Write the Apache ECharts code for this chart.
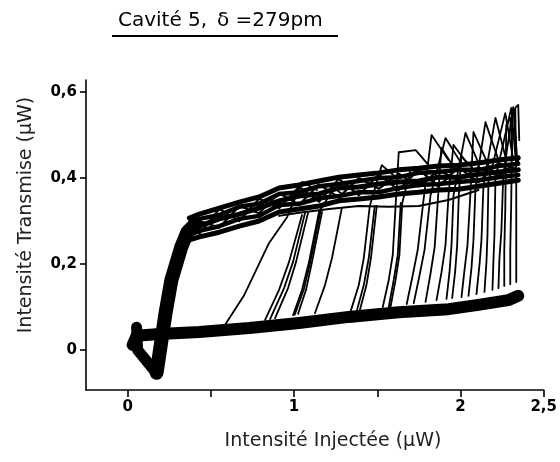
<!DOCTYPE html>
<html>
<head>
<meta charset="utf-8">
<script src="https://cdn.jsdelivr.net/npm/echarts@6/dist/echarts.min.js"></script>
<style>
  html, body { margin: 0; padding: 0; background: #fff; }
  #chart { width: 560px; height: 462px; }
</style>
</head>
<body>
<div id="chart"></div>
<script>
// Axis ticks and labels
const xTicks = [0, 0.5, 1, 1.5, 2, 2.5];
const xLabelValues = [0, 1, 2, 2.5];
const yTicks = [0, 0.2, 0.4, 0.6];

// Lower (off-state) branch, increasing power
const lowerBranch = [
  [0.030, 0.012], [0.054, 0.033], [0.192, 0.037], [0.431, 0.042], [0.731, 0.051],
  [1.030, 0.063], [1.329, 0.077], [1.629, 0.088], [1.928, 0.095], [2.108, 0.105],
  [2.287, 0.116], [2.347, 0.126]
];

// Small loop near the origin (blob and dip before switching up)
const originLoop = [[0.054, 0.053], [0.060, 0.000], [0.168, -0.051]];

// Steep switching band at low power
const switchBand = [
  [0.174, -0.053], [0.192, -0.007], [0.228, 0.086], [0.263, 0.163],
  [0.323, 0.240], [0.359, 0.274], [0.407, 0.293]
];

// Upper (on-state) branch, several passes
const upperX = [0.371, 0.431, 0.551, 0.671, 0.790, 0.910, 1.030, 1.150, 1.269,
                1.389, 1.509, 1.629, 1.749, 1.868, 1.988, 2.108, 2.228, 2.347];
const upperA = [0.307, 0.316, 0.330, 0.344, 0.356, 0.377, 0.384, 0.393, 0.402,
                0.407, 0.412, 0.419, 0.423, 0.428, 0.430, 0.435, 0.442, 0.447];
const upperB = [0.293, 0.305, 0.314, 0.333, 0.340, 0.363, 0.367, 0.381, 0.386,
                0.393, 0.400, 0.402, 0.412, 0.414, 0.419, 0.419, 0.428, 0.433];
const upperC = [0.279, 0.288, 0.305, 0.316, 0.330, 0.347, 0.358, 0.363, 0.377,
                0.379, 0.386, 0.391, 0.393, 0.402, 0.402, 0.409, 0.414, 0.419];
const upperD = [0.267, 0.277, 0.288, 0.305, 0.312, 0.337, 0.340, 0.353, 0.358,
                0.367, 0.367, 0.377, 0.384, 0.386, 0.391, 0.395, 0.402, 0.407];
const upperE = [0.256, 0.263, 0.274, 0.288, 0.300, 0.321, 0.328, 0.335, 0.347,
                0.351, 0.356, 0.363, 0.367, 0.372, 0.374, 0.381, 0.388, 0.395];
const upperF = [0.300, 0.270, 0.328, 0.300, 0.352, 0.330, 0.380, 0.345, 0.398,
                0.360, 0.408, 0.372, 0.420, 0.380, 0.425, 0.390, 0.435, 0.420];
const upperG = [0.262, 0.300, 0.285, 0.335, 0.318, 0.365, 0.338, 0.385, 0.355,
                0.400, 0.375, 0.410, 0.380, 0.418, 0.395, 0.425, 0.405, 0.440];
const returnX = [0.910, 1.030, 1.210, 1.389, 1.569, 1.749, 1.928, 2.108];
const returnY = [0.312, 0.319, 0.328, 0.335, 0.333, 0.335, 0.349, 0.372];

// Individual up-switching traces (leave the lower branch, overshoot, settle)
const upSwitches = [
  [[0.581, 0.056], [0.701, 0.128], [0.772, 0.186], [0.850, 0.249], [0.958, 0.309], [1.048, 0.391], [1.138, 0.372]],
  [[0.826, 0.070], [0.910, 0.140], [0.970, 0.205], [1.048, 0.314]],
  [[0.856, 0.072], [0.940, 0.144], [0.994, 0.205], [1.066, 0.319]],
  [[0.886, 0.074], [0.964, 0.144], [1.012, 0.205], [1.084, 0.319]],
  [[0.994, 0.081], [1.048, 0.140], [1.090, 0.205], [1.150, 0.321], [1.240, 0.377], [1.299, 0.360]],
  [[1.004, 0.082], [1.058, 0.140], [1.098, 0.205], [1.158, 0.321]],
  [[1.024, 0.084], [1.072, 0.140], [1.108, 0.205], [1.168, 0.321]],
  [[1.126, 0.086], [1.186, 0.151], [1.228, 0.214], [1.287, 0.330]],
  [[1.341, 0.091], [1.389, 0.151], [1.419, 0.214], [1.455, 0.335], [1.527, 0.430], [1.617, 0.400]],
  [[1.377, 0.091], [1.419, 0.151], [1.449, 0.214], [1.485, 0.335]],
  [[1.395, 0.092], [1.435, 0.151], [1.462, 0.214], [1.497, 0.335]],
  [[1.533, 0.100], [1.569, 0.163], [1.593, 0.221], [1.611, 0.342], [1.629, 0.460], [1.731, 0.465], [1.808, 0.430]],
  [[1.569, 0.100], [1.599, 0.163], [1.623, 0.221], [1.641, 0.342]],
  [[1.580, 0.101], [1.610, 0.163], [1.633, 0.221], [1.650, 0.342], [1.700, 0.420], [1.760, 0.410]],
  [[1.677, 0.107], [1.713, 0.174], [1.743, 0.233], [1.778, 0.349], [1.826, 0.500], [1.928, 0.442]],
  [[1.719, 0.109], [1.754, 0.174], [1.784, 0.233], [1.820, 0.360], [1.910, 0.493], [2.000, 0.437]],
  [[1.790, 0.112], [1.820, 0.178], [1.845, 0.240], [1.865, 0.355], [1.885, 0.470], [1.960, 0.425]],
  [[1.856, 0.116], [1.886, 0.181], [1.910, 0.244], [1.928, 0.360], [1.958, 0.477], [2.048, 0.430]],
  [[1.916, 0.119], [1.934, 0.181], [1.946, 0.244], [1.958, 0.360], [2.030, 0.505], [2.108, 0.435]],
  [[1.950, 0.121], [1.968, 0.183], [1.980, 0.244], [1.990, 0.362], [2.005, 0.450], [2.070, 0.425]],
  [[2.006, 0.123], [2.024, 0.186], [2.042, 0.244], [2.060, 0.367], [2.078, 0.507], [2.168, 0.430]],
  [[2.048, 0.126], [2.066, 0.191], [2.078, 0.256], [2.090, 0.377], [2.150, 0.530], [2.228, 0.442]],
  [[2.096, 0.130], [2.114, 0.198], [2.126, 0.256], [2.138, 0.384], [2.210, 0.540], [2.275, 0.442]],
  [[2.144, 0.135], [2.156, 0.205], [2.162, 0.267], [2.168, 0.391], [2.269, 0.551], [2.317, 0.442]],
  [[2.192, 0.140], [2.198, 0.209], [2.204, 0.267], [2.210, 0.400], [2.305, 0.563], [2.335, 0.430]],
  [[2.228, 0.144], [2.234, 0.214], [2.246, 0.279], [2.257, 0.407], [2.317, 0.565], [2.341, 0.442]],
  [[2.263, 0.149], [2.263, 0.233], [2.269, 0.326], [2.275, 0.523], [2.299, 0.540], [2.311, 0.465]],
  [[2.299, 0.153], [2.299, 0.233], [2.305, 0.349], [2.311, 0.547], [2.323, 0.558], [2.335, 0.465]],
  [[2.335, 0.158], [2.335, 0.256], [2.335, 0.395], [2.329, 0.563], [2.347, 0.570], [2.353, 0.488]]
];

const titleMain = 'Cavité 5,';
const titleDelta = 'δ =279pm';
const xName = 'Intensité Injectée (µW)';
const yName = 'Intensité Transmise (µW)';

const FONT = '"DejaVu Sans", "Liberation Sans", sans-serif';
const zip = (xs, ys) => xs.map((x, i) => [x, ys[i]]);
const fmt = v => String(v).replace('.', ',');

function trace(data, width, z) {
  return {
    type: 'line', data, symbol: 'none', showSymbol: false, silent: true,
    animation: false, z: z || 2,
    lineStyle: { color: '#000', width, cap: 'round', join: 'round' }
  };
}

const series = [
  trace(lowerBranch, 12, 3),
  trace(originLoop, 11, 3),
  trace(switchBand, 14, 3),
  trace(zip(upperX, upperA), 5),
  trace(zip(upperX, upperB), 4.5),
  trace(zip(upperX, upperC), 5),
  trace(zip(upperX, upperD), 4.5),
  trace(zip(upperX, upperE), 5),
  trace(zip(upperX, upperF), 2.2),
  trace(zip(upperX, upperG), 2.2),
  trace(zip(returnX, returnY), 2)
];
upSwitches.forEach(t => series.push(trace(t, 1.8)));

const chart = echarts.init(document.getElementById('chart'), null, { renderer: 'canvas' });
chart.setOption({
  animation: false,
  backgroundColor: '#fff',
  grid: { left: 86, right: 15, top: 80, bottom: 72, containLabel: false },
  xAxis: {
    type: 'value', min: -0.25, max: 2.5,
    axisLine: { onZero: false, lineStyle: { color: '#000', width: 1.6 } },
    axisTick: { show: true, length: 7, lineStyle: { color: '#000', width: 1.6 }, customValues: xTicks },
    axisLabel: {
      customValues: xLabelValues, formatter: fmt, margin: 10,
      color: '#000', fontFamily: FONT, fontWeight: 'bold', fontSize: 15
    },
    splitLine: { show: false }
  },
  yAxis: {
    type: 'value', min: -0.093, max: 0.628,
    axisLine: { show: true, onZero: false, lineStyle: { color: '#000', width: 1.6 } },
    axisTick: { show: true, length: 6, lineStyle: { color: '#000', width: 1.6 }, customValues: yTicks },
    axisLabel: {
      customValues: yTicks, formatter: fmt, margin: 9,
      color: '#000', fontFamily: FONT, fontWeight: 'bold', fontSize: 15
    },
    splitLine: { show: false }
  },
  graphic: [
    { type: 'text', x: 118, y: 21, silent: true,
      style: { text: titleMain, fill: '#000', font: '20px ' + FONT, textAlign: 'left', textVerticalAlign: 'middle' } },
    { type: 'text', x: 217, y: 21, silent: true,
      style: { text: titleDelta, fill: '#000', font: '20px ' + FONT, textAlign: 'left', textVerticalAlign: 'middle' } },
    { type: 'line', silent: true,
      shape: { x1: 112, y1: 36, x2: 338, y2: 36 }, style: { stroke: '#000', lineWidth: 2 } },
    { type: 'text', x: 333, y: 441, silent: true,
      style: { text: xName, fill: '#222', font: '19px ' + FONT, textAlign: 'center', textVerticalAlign: 'middle' } },
    { type: 'text', x: 26, y: 215, rotation: Math.PI / 2, silent: true,
      style: { text: yName, fill: '#222', font: '19px ' + FONT, textAlign: 'center', textVerticalAlign: 'middle' } }
  ],
  series
});
</script>
</body>
</html>
